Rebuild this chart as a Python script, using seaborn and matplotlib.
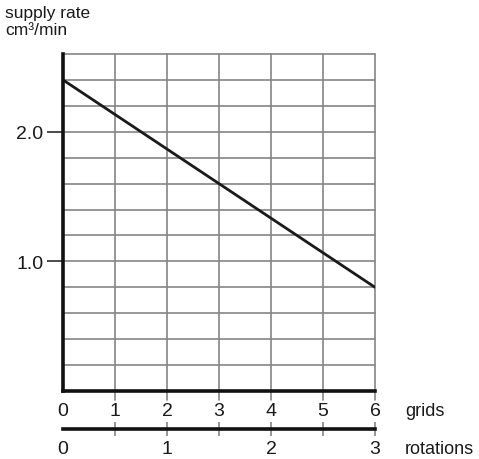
import matplotlib
matplotlib.use("Agg")
import matplotlib.pyplot as plt
import seaborn as sns
import pandas as pd
import numpy as np

# Supply rate falls linearly with the number of grids turned
grids = [0, 6]
supply_rate = [2.4, 0.8]

grid_ticks = [0, 1, 2, 3, 4, 5, 6]
rotation_ticks = [0, 1, 2, 3]
rotation_minor = [0.5, 1, 1.5, 2, 2.5, 3]
y_labelled = [1.0, 2.0]
y_lines = [0.2, 0.4, 0.6, 0.8, 1.2, 1.4, 1.6, 1.8, 2.2, 2.4, 2.6]

sns.set_style("white")
plt.rcParams["font.family"] = ["Liberation Sans", "DejaVu Sans"]

DPI = 100
W, H = 479, 460
fig = plt.figure(figsize=(W / DPI, H / DPI), dpi=DPI)

x0, x1 = 63, 375   # pixel span of the grid
ytop, ybot = 55, 392
ax = fig.add_axes([x0 / W, (H - ybot) / H, (x1 - x0) / W, (ybot - ytop) / H])

df = pd.DataFrame({"grids": grids, "supply": supply_rate})
sns.lineplot(data=df, x="grids", y="supply", ax=ax, color="#1a1a1a",
             linewidth=2.0, zorder=5)

ax.set_xlim(0, 6)
ax.set_ylim(0, 2.6)
ax.set_xlabel("")
ax.set_ylabel("")

grid_col = "#858585"
# vertical grid lines, continuing a little below the axis as tick marks
below = -9.0 / (ybot - ytop)
for v in grid_ticks[1:]:
    ax.axvline(v, ymin=below, ymax=1, color=grid_col, lw=1.2, zorder=1,
               clip_on=False)
for v in y_lines + y_labelled:
    ax.axhline(v, color=grid_col, lw=1.2, zorder=1, clip_on=False)

for s in ["top", "right"]:
    ax.spines[s].set_visible(False)
for s in ["left", "bottom"]:
    ax.spines[s].set_color("#111111")
    ax.spines[s].set_linewidth(2.6)
    ax.spines[s].set_zorder(6)

FS = 14

ax.set_xticks(grid_ticks)
ax.set_xticklabels([str(v) for v in grid_ticks])
ax.tick_params(axis="x", which="major", bottom=True, length=0,
               pad=7.7, labelsize=FS, labelcolor="#1a1a1a")

# y ticks: only the labelled values
ax.set_yticks(y_labelled)
ax.set_yticklabels(["1.0", "2.0"])
ax.tick_params(axis="y", left=True, direction="out", length=11.5, width=1.1,
               color="#1a1a1a", pad=2.5, labelsize=FS, labelcolor="#1a1a1a")

# second scale: rotations
sec = ax.secondary_xaxis(-37.5 / (ybot - ytop),
                         functions=(lambda g: np.asarray(g) / 2.0,
                                    lambda r: np.asarray(r) * 2.0))
sec.set_xticks(rotation_ticks)
sec.set_xticklabels([str(v) for v in rotation_ticks])
sec.tick_params(axis="x", which="major", bottom=True, length=0, pad=8.5,
                labelsize=FS, labelcolor="#1a1a1a")
sec.set_xticks(rotation_minor, minor=True)
sec.xaxis.remove_overlapping_locs = False
sec.tick_params(axis="x", which="minor", bottom=True, direction="inout",
                length=10, width=1.2, color=grid_col)
sec.spines["bottom"].set_color("#111111")
sec.spines["bottom"].set_linewidth(2.6)

# axis captions
fig.text(5 / W, 1 - 6 / H, "supply rate\ncm³/min", ha="left", va="top",
         fontsize=12.5, color="#1a1a1a", linespacing=1.2)
fig.text(405 / W, 1 - 412 / H, "grids", ha="left", va="center",
         fontsize=13, color="#1a1a1a")
fig.text(405 / W, 1 - 450 / H, "rotations", ha="left", va="center",
         fontsize=13, color="#1a1a1a")

fig.savefig("out.png", dpi=DPI, facecolor="white")
